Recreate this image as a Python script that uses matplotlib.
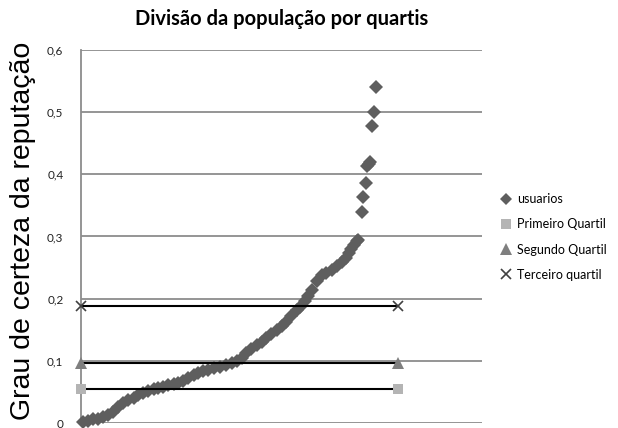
import matplotlib
matplotlib.use("Agg")
import matplotlib.pyplot as plt
from matplotlib.lines import Line2D
from matplotlib.ticker import FuncFormatter

# Users ranked by certainty of reputation
rank = [2, 8, 15, 21, 27, 33, 40, 46, 52, 58, 65, 71, 77, 83, 90, 96, 102, 108,
        115, 121, 127, 133, 140, 146, 152, 158, 165, 173, 181, 188, 194, 200,
        206, 212, 219, 225, 231, 237, 244, 250, 256, 262, 269, 273, 279, 283,
        288, 294, 300, 306, 313, 319, 325, 330, 334, 337, 340, 344, 346,
        350, 352, 356, 357, 359, 360, 363, 365, 368]
certeza = [0.002, 0.004, 0.006, 0.007, 0.009, 0.013, 0.018, 0.025, 0.032, 0.037,
           0.041, 0.045, 0.048, 0.051, 0.054, 0.056, 0.058, 0.061, 0.063, 0.065,
           0.068, 0.072, 0.077, 0.080, 0.083, 0.085, 0.088, 0.090, 0.093, 0.096,
           0.099, 0.105, 0.112, 0.119, 0.126, 0.131, 0.136, 0.143, 0.150, 0.156,
           0.163, 0.172, 0.181, 0.187, 0.197, 0.205, 0.214, 0.228, 0.238, 0.242,
           0.246, 0.252, 0.259, 0.266, 0.273, 0.280, 0.286, 0.293, 0.295,
           0.339, 0.363, 0.386, 0.413, 0.416, 0.420, 0.478, 0.501, 0.540]

# Quartile reference lines (start and end rank)
quartil_x = [0, 395]
primeiro_quartil = 0.054
segundo_quartil = 0.097
terceiro_quartil = 0.189

series_labels = ["usuarios", "Primeiro Quartil", "Segundo Quartil", "Terceiro quartil"]
y_ticks = [0, 0.1, 0.2, 0.3, 0.4, 0.5, 0.6]

fig = plt.figure(figsize=(6.18, 4.28), dpi=100)
ax = fig.add_axes([81.5 / 618, 5 / 428, 400 / 618, 373 / 428])

grid_color = "#8c8c8c"
ax.set_xlim(0, 500)
ax.set_ylim(0, 0.6)
ax.set_yticks(y_ticks)
ax.yaxis.set_major_formatter(
    FuncFormatter(lambda v, _: "0" if v == 0 else f"{v:.1f}".replace(".", ",")))
ax.set_xticks([])
ax.grid(axis="y", color=grid_color, linewidth=1.3)
ax.set_axisbelow(True)
for side in ("top", "right", "bottom"):
    ax.spines[side].set_visible(False)
ax.spines["left"].set_color(grid_color)
ax.spines["left"].set_linewidth(1.3)
ax.tick_params(axis="y", length=0, pad=13, labelsize=8.5, labelcolor="#222222")
for lab in ax.get_yticklabels():
    lab.set_fontfamily("Lato")

dia_color = "#5e5e5e"
sq_color = "#b4b4b4"
tri_color = "#7f7f7f"
x_color = "#404040"

ax.plot(rank, certeza, linestyle="none", marker="D", markersize=7,
        color=dia_color, markeredgewidth=0, clip_on=False, zorder=3)

quartis = [
    (primeiro_quartil, "s", sq_color, 7.5, 0),
    (segundo_quartil, "^", tri_color, 8, 0),
    (terceiro_quartil, "x", x_color, 7.5, 1.2),
]
for val, mk, col, ms, mew in quartis:
    ax.plot(quartil_x, [val, val], color="black", linewidth=1.5, zorder=4)
    ax.plot(quartil_x, [val, val], linestyle="none", marker=mk, markersize=ms,
            color=col, markeredgewidth=mew, clip_on=False, zorder=5)

ax.set_title("Divisão da população por quartis", fontsize=14.5,
             fontweight="bold", fontfamily="Lato", pad=18)
ax.set_ylabel("Grau de certeza da reputação", fontsize=20.5,
              fontfamily="Liberation Sans")
ax.yaxis.set_label_coords((36 - 81.5) / 400, 0.515)

handles = [
    Line2D([], [], linestyle="none", marker="D", markersize=6, color=dia_color, markeredgewidth=0),
    Line2D([], [], linestyle="none", marker="s", markersize=7.5, color=sq_color, markeredgewidth=0),
    Line2D([], [], linestyle="none", marker="^", markersize=8, color=tri_color, markeredgewidth=0),
    Line2D([], [], linestyle="none", marker="x", markersize=7.5, color=x_color, markeredgewidth=1.2),
]
fig.legend(handles, series_labels, loc="center left",
           bbox_to_anchor=(496 / 618, 1 - 237 / 428), frameon=False,
           prop={"family": "Lato", "size": 9}, handlelength=0.8,
           handletextpad=0.45, labelspacing=1.05, borderaxespad=0)

fig.savefig("out.png", dpi=100)
